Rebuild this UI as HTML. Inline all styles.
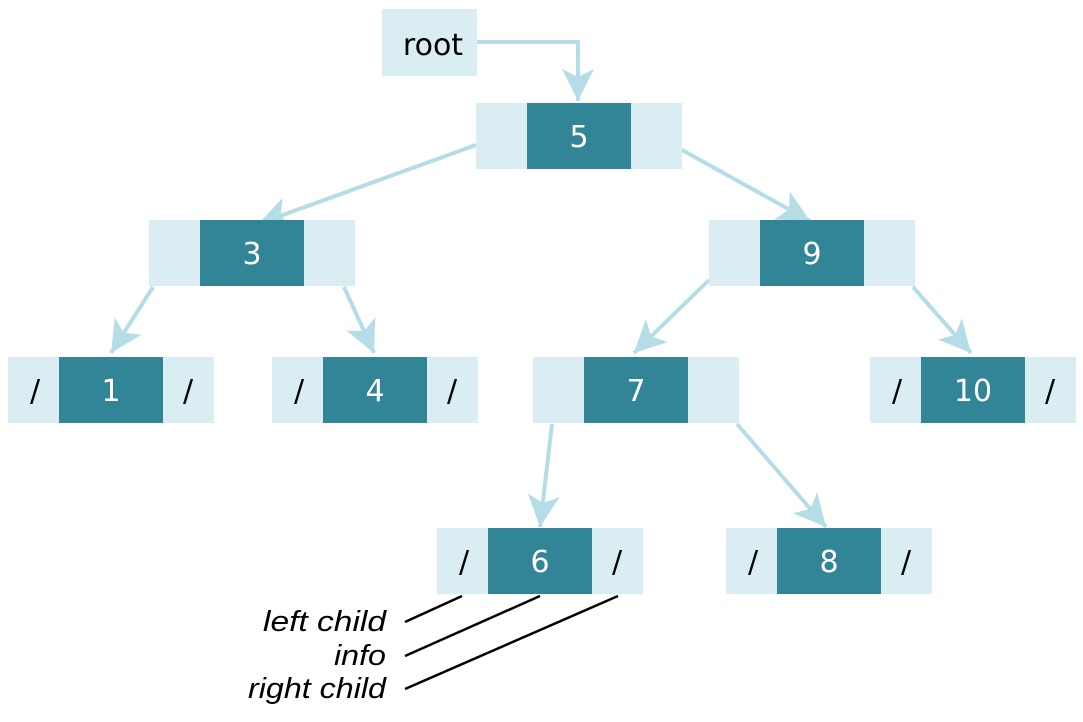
<!DOCTYPE html>
<html><head><style>
body{margin:0;background:#fff;}
svg text{font-family:"DejaVu Sans",sans-serif;}
svg text.l{font-family:"Liberation Sans",sans-serif;font-size:29px;font-style:italic;}
</style></head><body>
<svg width="1083" height="717" viewBox="0 0 1083 717" xmlns="http://www.w3.org/2000/svg">
<defs>
<marker id="ah" viewBox="0 0 32 32" refX="32" refY="16" markerWidth="32" markerHeight="32" markerUnits="userSpaceOnUse" orient="auto">
<path d="M0,0 L32,16 L0,32 L8,16 Z" fill="#b5dde8"/>
</marker>
</defs>
<g stroke="#b5dde8" stroke-width="4" fill="none" marker-end="url(#ah)">
<polyline points="477,42 578,42 578,101"/>
<line x1="476" y1="145" x2="258" y2="224"/>
<line x1="682" y1="150" x2="810" y2="221"/>
<line x1="153" y1="287" x2="111" y2="353"/>
<line x1="344" y1="287" x2="374" y2="353"/>
<line x1="709" y1="280" x2="634" y2="353"/>
<line x1="913" y1="287" x2="971" y2="353"/>
<line x1="552" y1="424" x2="540" y2="527"/>
<line x1="737" y1="424" x2="826" y2="527"/>
</g>
<rect x="382" y="9" width="95" height="67" fill="#daedf3"/>
<text x="433" y="55" font-size="30" text-anchor="middle" fill="#000">root</text>
<g font-size="30" text-anchor="middle">
<g transform="translate(476,103)"><rect width="206" height="66" fill="#daedf3"/><rect x="51" width="104" height="66" fill="#318597"/><text x="103" y="44" fill="#fff">5</text></g>
<g transform="translate(149,220)"><rect width="206" height="66" fill="#daedf3"/><rect x="51" width="104" height="66" fill="#318597"/><text x="103" y="44" fill="#fff">3</text></g>
<g transform="translate(709,220)"><rect width="206" height="66" fill="#daedf3"/><rect x="51" width="104" height="66" fill="#318597"/><text x="103" y="44" fill="#fff">9</text></g>
<g transform="translate(533,357)"><rect width="206" height="66" fill="#daedf3"/><rect x="51" width="104" height="66" fill="#318597"/><text x="103" y="44" fill="#fff">7</text></g>
<g transform="translate(8,357)"><rect width="206" height="66" fill="#daedf3"/><rect x="51" width="104" height="66" fill="#318597"/><text x="103" y="44" fill="#fff">1</text><text x="27" y="44">/</text><text x="180" y="44">/</text></g>
<g transform="translate(272,357)"><rect width="206" height="66" fill="#daedf3"/><rect x="51" width="104" height="66" fill="#318597"/><text x="103" y="44" fill="#fff">4</text><text x="27" y="44">/</text><text x="180" y="44">/</text></g>
<g transform="translate(870,357)"><rect width="206" height="66" fill="#daedf3"/><rect x="51" width="104" height="66" fill="#318597"/><text x="103" y="44" fill="#fff">10</text><text x="27" y="44">/</text><text x="180" y="44">/</text></g>
<g transform="translate(437,528)"><rect width="206" height="66" fill="#daedf3"/><rect x="51" width="104" height="66" fill="#318597"/><text x="103" y="44" fill="#fff">6</text><text x="27" y="44">/</text><text x="180" y="44">/</text></g>
<g transform="translate(726,528)"><rect width="206" height="66" fill="#daedf3"/><rect x="51" width="104" height="66" fill="#318597"/><text x="103" y="44" fill="#fff">8</text><text x="27" y="44">/</text><text x="180" y="44">/</text></g>
</g>
<g stroke="#000" stroke-width="2.5">
<line x1="462" y1="596" x2="405" y2="622"/>
<line x1="540" y1="596" x2="405" y2="656"/>
<line x1="618" y1="596" x2="405" y2="689"/>
</g>
<text class="l" x="263" y="631" textLength="123" lengthAdjust="spacingAndGlyphs">left child</text>
<text class="l" x="334" y="665" textLength="52" lengthAdjust="spacingAndGlyphs">info</text>
<text class="l" x="248" y="698" textLength="138" lengthAdjust="spacingAndGlyphs">right child</text>
</svg>
</body></html>
